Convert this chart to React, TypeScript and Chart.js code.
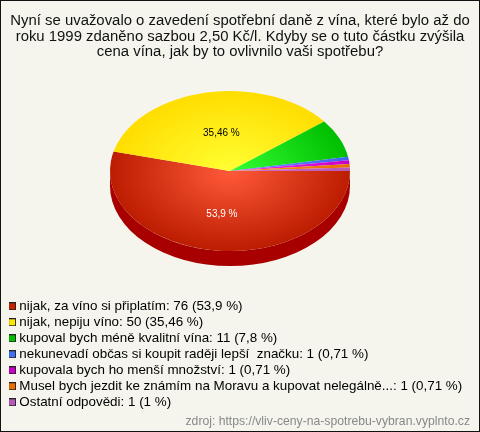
import React, { useEffect, useRef } from "react";
import { Chart, registerables } from "chart.js";

Chart.register(...registerables);

const categories = [
  "nijak, za víno si připlatím",
  "nijak, nepiju víno",
  "kupoval bych méně kvalitní vína",
  "nekunevadí občas si koupit raději lepší  značku",
  "kupovala bych ho menší množství",
  "Musel bych jezdit ke známím na Moravu a kupovat nelegálně...",
  "Ostatní odpovědi",
];
const counts = [76, 50, 11, 1, 1, 1, 1];
const percentLabels = ["53,9", "35,46", "7,8", "0,71", "0,71", "0,71", "1"];
const innerColors = ["#FF5A3A", "#FFFF33", "#33FF33", "#6C8CFF", "#F030F0", "#FF9020", "#D070D0"];
const outerColors = ["#BC1C00", "#FFDD00", "#00BE00", "#3C64F0", "#C800C8", "#E87000", "#B858B8"];
const legendColors = ["#C42200", "#FFE600", "#00C000", "#4070F0", "#C800C8", "#E87000", "#B858B8"];
const sideColors = ["#A80000", "#C0A800", "#008800", "#2840B0", "#900090", "#B05000", "#884088"];
const titleLines = [
  "Nyní se uvažovalo o zavedení spotřební daně z vína, které bylo až do",
  "roku 1999 zdaněno sazbou 2,50 Kč/l. Kdyby se o tuto částku zvýšila",
  "cena vína, jak by to ovlivnilo vaši spotřebu?",
];
const sourceText = "zdroj: https://vliv-ceny-na-spotrebu-vybran.vyplnto.cz";

const PIE = { cx: 230, cy: 171, r: 120, squash: 2 / 3, depth: 15 };
const LABELS = [
  { i: 0, color: "#FFFFFF", frac: 0.55, dx: 0, dy: 0 },
  { i: 1, color: "#000000", frac: 0.5, dx: 4, dy: 1 },
];

function swatch(color: string) {
  const c = document.createElement("canvas");
  c.width = 8;
  c.height = 8;
  const g = c.getContext("2d")!;
  g.fillStyle = "#222222";
  g.fillRect(0, 0, 8, 8);
  g.fillStyle = color;
  g.fillRect(1, 1, 6, 6);
  return c;
}

const piePlugin = {
  id: "pie3d",
  afterLayout(chart: any) {
    const a = chart.chartArea;
    a.left = PIE.cx - PIE.r;
    a.right = PIE.cx + PIE.r;
    a.top = PIE.cy - PIE.r;
    a.bottom = PIE.cy + PIE.r;
    a.width = PIE.r * 2;
    a.height = PIE.r * 2;
    const l = chart.legend;
    l.left = 9;
    l.right = 479;
    l.width = 470;
    l.top = 297;
    l.bottom = 420;
    l.height = l.bottom - l.top;
    l.adjustHitBoxes();
  },
  beforeDatasetsDraw(chart: any) {
    const { ctx } = chart;
    ctx.save();
    const arcs = chart.getDatasetMeta(0).data;
    // side wall: only the part of each slice that faces the viewer
    arcs.forEach((arc: any, i: number) => {
      const p = arc.getProps(["startAngle", "endAngle", "x", "y", "outerRadius"]);
      const s = Math.max(p.startAngle, 0);
      const e = Math.min(p.endAngle, Math.PI);
      if (e <= s) return;
      ctx.beginPath();
      ctx.ellipse(p.x, PIE.cy, p.outerRadius, p.outerRadius * PIE.squash, 0, s, e);
      ctx.ellipse(p.x, PIE.cy + PIE.depth, p.outerRadius, p.outerRadius * PIE.squash, 0, e, s, true);
      ctx.closePath();
      ctx.fillStyle = sideColors[i];
      ctx.fill();
    });
    ctx.translate(0, PIE.cy);
    ctx.scale(1, PIE.squash);
    ctx.translate(0, -PIE.cy);
  },
  afterDatasetsDraw(chart: any) {
    const { ctx } = chart;
    ctx.restore();
    const arcs = chart.getDatasetMeta(0).data;
    ctx.save();
    ctx.font = "10px 'Liberation Sans'";
    ctx.textAlign = "center";
    ctx.textBaseline = "middle";
    LABELS.forEach((l) => {
      const p = arcs[l.i].getProps(["startAngle", "endAngle", "x", "y", "outerRadius"]);
      const mid = (p.startAngle + p.endAngle) / 2;
      const rr = p.outerRadius * l.frac;
      ctx.fillStyle = l.color;
      ctx.fillText(
        percentLabels[l.i] + " %",
        p.x + Math.cos(mid) * rr + l.dx,
        PIE.cy + Math.sin(mid) * rr * PIE.squash + l.dy
      );
    });
    ctx.restore();
  },
};

export default function App() {
  const ref = useRef<HTMLCanvasElement>(null);
  useEffect(() => {
    const ctx = ref.current!.getContext("2d")!;
    const gradient = (inner: string, outer: string) => {
      const g = ctx.createRadialGradient(PIE.cx, PIE.cy, 0, PIE.cx, PIE.cy, PIE.r);
      g.addColorStop(0, inner);
      g.addColorStop(1, outer);
      return g;
    };
    const chart = new Chart(ref.current!, {
      type: "pie",
      data: {
        labels: categories,
        datasets: [
          {
            data: counts,
            backgroundColor: innerColors.map((c, i) => gradient(c, outerColors[i])),
            borderWidth: 0,
          },
        ],
      },
      options: {
        responsive: false,
        animation: false,
        devicePixelRatio: 1,
        rotation: 90,
        events: [],
        layout: { padding: { left: 10, right: 10, top: 0, bottom: 0 } },
        plugins: {
          tooltip: { enabled: false },
          title: {
            display: true,
            text: titleLines,
            color: "#111111",
            font: { family: "'Liberation Sans'", size: 14.9, weight: "normal", lineHeight: 1.05 },
            padding: { top: 13, bottom: 0 },
          },
          subtitle: {
            display: true,
            text: sourceText,
            position: "bottom",
            align: "end",
            color: "#888888",
            font: { family: "'Liberation Sans'", size: 12.2, weight: "normal", lineHeight: 1 },
            padding: { top: 0, bottom: 4 },
          },
          legend: {
            display: true,
            position: "left",
            align: "start",
            labels: {
              padding: 2.6,
              usePointStyle: true,
              pointStyleWidth: 1,
              boxHeight: 8,
              color: "#111111",
              font: { family: "'Liberation Sans'", size: 13.4, lineHeight: 1 },
              generateLabels: () =>
                categories.map((c, i) => ({
                  text: `${c}: ${counts[i]} (${percentLabels[i]} %)`,
                  pointStyle: swatch(legendColors[i]),
                  fillStyle: legendColors[i],
                  strokeStyle: "#222222",
                  lineWidth: 1,
                  hidden: false,
                  index: i,
                })),
            },
          },
        },
      } as any,
      plugins: [piePlugin],
    });
    return () => chart.destroy();
  }, []);
  return (
    <div style={{ position: "absolute", left: 0, top: 0, width: 480, height: 432 }}>
      <canvas
        ref={ref}
        width={480}
        height={432}
        style={{ display: "block", background: "#F5F5EE", outline: "1px solid #111111", outlineOffset: -1 }}
      />
    </div>
  );
}
